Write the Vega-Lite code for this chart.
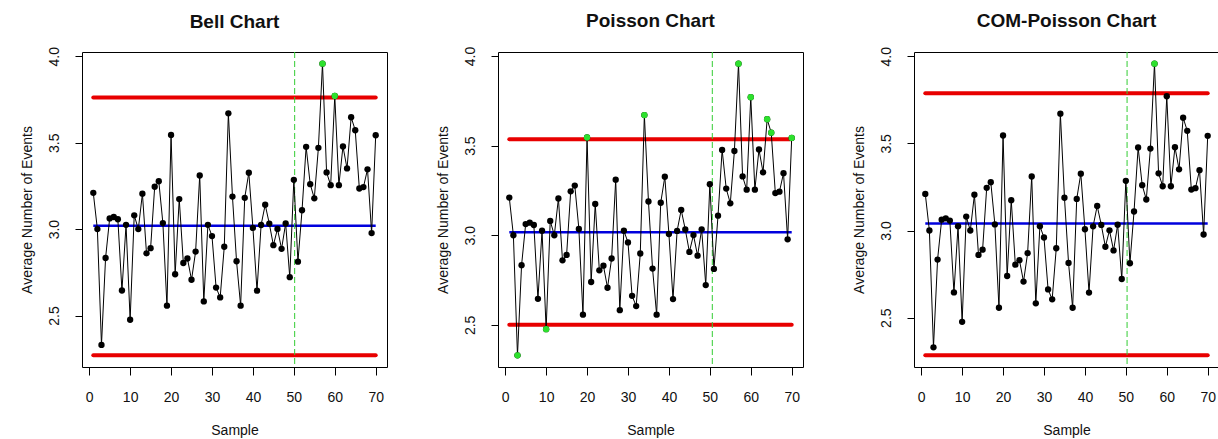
{
  "$schema": "https://vega.github.io/schema/vega-lite/v6.json",
  "padding": {"left": 19, "top": 11, "right": 0, "bottom": 0},
  "background": "white",
  "spacing": 111,
  "bounds": "flush",
  "datasets": {
    "obs": [
      {"sample":1,"value":3.21},{"sample":2,"value":3.0},{"sample":3,"value":2.33},{"sample":4,"value":2.833},{"sample":5,"value":3.062},
      {"sample":6,"value":3.07},{"sample":7,"value":3.057},{"sample":8,"value":2.645},{"sample":9,"value":3.025},{"sample":10,"value":2.476},
      {"sample":11,"value":3.08},{"sample":12,"value":3.0},{"sample":13,"value":3.205},{"sample":14,"value":2.86},{"sample":15,"value":2.89},
      {"sample":16,"value":3.245},{"sample":17,"value":3.277},{"sample":18,"value":3.035},{"sample":19,"value":2.557},{"sample":20,"value":3.545},
      {"sample":21,"value":2.739},{"sample":22,"value":3.174},{"sample":23,"value":2.804},{"sample":24,"value":2.83},{"sample":25,"value":2.707},
      {"sample":26,"value":2.87},{"sample":27,"value":3.31},{"sample":28,"value":2.582},{"sample":29,"value":3.025},{"sample":30,"value":2.96},
      {"sample":31,"value":2.662},{"sample":32,"value":2.605},{"sample":33,"value":2.898},{"sample":34,"value":3.67},{"sample":35,"value":3.188},
      {"sample":36,"value":2.814},{"sample":37,"value":2.557},{"sample":38,"value":3.181},{"sample":39,"value":3.326},{"sample":40,"value":3.007},
      {"sample":41,"value":2.644},{"sample":42,"value":3.024},{"sample":43,"value":3.141},{"sample":44,"value":3.032},{"sample":45,"value":2.907},
      {"sample":46,"value":3.001},{"sample":47,"value":2.886},{"sample":48,"value":3.033},{"sample":49,"value":2.722},{"sample":50,"value":3.285},
      {"sample":51,"value":2.812},{"sample":52,"value":3.109},{"sample":53,"value":3.476},{"sample":54,"value":3.26},{"sample":55,"value":3.178},
      {"sample":56,"value":3.47},{"sample":57,"value":3.957},{"sample":58,"value":3.328},{"sample":59,"value":3.254},{"sample":60,"value":3.77},
      {"sample":61,"value":3.254},{"sample":62,"value":3.478},{"sample":63,"value":3.351},{"sample":64,"value":3.647},{"sample":65,"value":3.572},
      {"sample":66,"value":3.235},{"sample":67,"value":3.243},{"sample":68,"value":3.346},{"sample":69,"value":2.977},{"sample":70,"value":3.543}
    ],
    "limits": [
      {"chart":"Bell","kind":"UCL","value":3.762,"sample":1,"sample_end":70},
      {"chart":"Bell","kind":"CL","value":3.02,"sample":1,"sample_end":70},
      {"chart":"Bell","kind":"LCL","value":2.27,"sample":1,"sample_end":70},
      {"chart":"Poisson","kind":"UCL","value":3.535,"sample":1,"sample_end":70},
      {"chart":"Poisson","kind":"CL","value":3.017,"sample":1,"sample_end":70},
      {"chart":"Poisson","kind":"LCL","value":2.5,"sample":1,"sample_end":70},
      {"chart":"COM","kind":"UCL","value":3.788,"sample":1,"sample_end":70},
      {"chart":"COM","kind":"CL","value":3.04,"sample":1,"sample_end":70},
      {"chart":"COM","kind":"LCL","value":2.284,"sample":1,"sample_end":70}
    ],
    "shift": [
      {"chart":"Bell","sample":50.2},
      {"chart":"Poisson","sample":50.6},
      {"chart":"COM","sample":50.3}
    ]
  },
  "config": {
    "view": {"stroke": "#000000", "strokeWidth": 1},
    "axis": {"grid": false, "domain": false, "tickColor": "#000000", "tickWidth": 1,
      "labelFont": "Liberation Sans", "labelFontSize": 14, "labelColor": "#111111",
      "titleFont": "Liberation Sans", "titleFontSize": 14, "titleFontWeight": "normal", "titleColor": "#111111"},
    "title": {"font": "Liberation Sans", "fontSize": 19, "fontWeight": "bold", "color": "#111111", "offset": 15, "baseline": "alphabetic", "anchor": "middle"}
  },
  "hconcat": [
    {
      "width": 305, "height": 315,
      "title": "Bell Chart",
      "encoding": {"x": {"field": "sample", "type": "quantitative", "scale": {"domain": [-1.76, 72.76], "nice": false, "zero": false},
        "axis": {"values": [0,10,20,30,40,50,60,70], "title": "Sample", "tickSize": 8, "labelPadding": 15, "titleY": 67, "titleBaseline": "alphabetic"}}},
      "layer": [
        {"data": {"name": "limits"}, "transform": [{"filter": "datum.chart === 'Bell' && datum.kind !== 'CL'"}],
         "mark": {"type": "rule", "color": "#e80000", "strokeWidth": 4, "strokeCap": "round"},
         "encoding": {"x2": {"field": "sample_end"}, "y": {"field": "value", "type": "quantitative", "scale": {"domain": [2.2025, 4.0245], "nice": false, "zero": false},
           "axis": {"values": [2.5,3,3.5,4], "format": ".1f", "title": "Average Number of Events", "labelAngle": -90, "labelAlign": "center", "labelBaseline": "alphabetic", "labelPadding": 17, "tickSize": 7, "titleX": -55, "titleY": 157.5, "titleAngle": -90, "titleAlign": "center", "titleBaseline": "middle"}}}},
        {"data": {"name": "limits"}, "transform": [{"filter": "datum.chart === 'Bell' && datum.kind === 'CL'"}],
         "mark": {"type": "rule", "color": "#0000dd", "strokeWidth": 2.5},
         "encoding": {"x2": {"field": "sample_end"}, "y": {"field": "value", "type": "quantitative", "scale": {"domain": [2.2025, 4.0245], "nice": false, "zero": false}}}},
        {"data": {"name": "shift"}, "transform": [{"filter": "datum.chart === 'Bell'"}],
         "mark": {"type": "rule", "color": "#33cc33", "strokeWidth": 1, "strokeDash": [6, 3]}, "encoding": {}},
        {"data": {"name": "obs"}, "mark": {"type": "line", "color": "#000000", "strokeWidth": 1},
         "encoding": {"y": {"field": "value", "type": "quantitative", "scale": {"domain": [2.2025, 4.0245], "nice": false, "zero": false}}}},
        {"data": {"name": "obs"}, "mark": {"type": "circle", "color": "#000000", "opacity": 1, "size": 40},
         "encoding": {"y": {"field": "value", "type": "quantitative", "scale": {"domain": [2.2025, 4.0245], "nice": false, "zero": false}}}},
        {"data": {"name": "obs"}, "transform": [{"filter": "datum.value > 3.762 || datum.value < 2.27"}],
         "mark": {"type": "circle", "color": "#2de02d", "opacity": 1, "size": 40},
         "encoding": {"y": {"field": "value", "type": "quantitative", "scale": {"domain": [2.2025, 4.0245], "nice": false, "zero": false}}}}
      ]
    },
    {
      "width": 305, "height": 315,
      "title": "Poisson Chart",
      "encoding": {"x": {"field": "sample", "type": "quantitative", "scale": {"domain": [-1.76, 72.76], "nice": false, "zero": false},
        "axis": {"values": [0,10,20,30,40,50,60,70], "title": "Sample", "tickSize": 8, "labelPadding": 15, "titleY": 67, "titleBaseline": "alphabetic"}}},
      "layer": [
        {"data": {"name": "limits"}, "transform": [{"filter": "datum.chart === 'Poisson' && datum.kind !== 'CL'"}],
         "mark": {"type": "rule", "color": "#e80000", "strokeWidth": 4, "strokeCap": "round"},
         "encoding": {"x2": {"field": "sample_end"}, "y": {"field": "value", "type": "quantitative", "scale": {"domain": [2.265, 4.022], "nice": false, "zero": false},
           "axis": {"values": [2.5,3,3.5,4], "format": ".1f", "title": "Average Number of Events", "labelAngle": -90, "labelAlign": "center", "labelBaseline": "alphabetic", "labelPadding": 17, "tickSize": 7, "titleX": -55, "titleY": 157.5, "titleAngle": -90, "titleAlign": "center", "titleBaseline": "middle"}}}},
        {"data": {"name": "limits"}, "transform": [{"filter": "datum.chart === 'Poisson' && datum.kind === 'CL'"}],
         "mark": {"type": "rule", "color": "#0000dd", "strokeWidth": 2.5},
         "encoding": {"x2": {"field": "sample_end"}, "y": {"field": "value", "type": "quantitative", "scale": {"domain": [2.265, 4.022], "nice": false, "zero": false}}}},
        {"data": {"name": "shift"}, "transform": [{"filter": "datum.chart === 'Poisson'"}],
         "mark": {"type": "rule", "color": "#33cc33", "strokeWidth": 1, "strokeDash": [6, 3]}, "encoding": {}},
        {"data": {"name": "obs"}, "mark": {"type": "line", "color": "#000000", "strokeWidth": 1},
         "encoding": {"y": {"field": "value", "type": "quantitative", "scale": {"domain": [2.265, 4.022], "nice": false, "zero": false}}}},
        {"data": {"name": "obs"}, "mark": {"type": "circle", "color": "#000000", "opacity": 1, "size": 40},
         "encoding": {"y": {"field": "value", "type": "quantitative", "scale": {"domain": [2.265, 4.022], "nice": false, "zero": false}}}},
        {"data": {"name": "obs"}, "transform": [{"filter": "datum.value > 3.535 || datum.value < 2.5"}],
         "mark": {"type": "circle", "color": "#2de02d", "opacity": 1, "size": 40},
         "encoding": {"y": {"field": "value", "type": "quantitative", "scale": {"domain": [2.265, 4.022], "nice": false, "zero": false}}}}
      ]
    },
    {
      "width": 305, "height": 315,
      "title": "COM-Poisson Chart",
      "encoding": {"x": {"field": "sample", "type": "quantitative", "scale": {"domain": [-1.76, 72.76], "nice": false, "zero": false},
        "axis": {"values": [0,10,20,30,40,50,60,70], "title": "Sample", "tickSize": 8, "labelPadding": 15, "titleY": 67, "titleBaseline": "alphabetic"}}},
      "layer": [
        {"data": {"name": "limits"}, "transform": [{"filter": "datum.chart === 'COM' && datum.kind !== 'CL'"}],
         "mark": {"type": "rule", "color": "#e80000", "strokeWidth": 4, "strokeCap": "round"},
         "encoding": {"x2": {"field": "sample_end"}, "y": {"field": "value", "type": "quantitative", "scale": {"domain": [2.217, 4.024], "nice": false, "zero": false},
           "axis": {"values": [2.5,3,3.5,4], "format": ".1f", "title": "Average Number of Events", "labelAngle": -90, "labelAlign": "center", "labelBaseline": "alphabetic", "labelPadding": 17, "tickSize": 7, "titleX": -55, "titleY": 157.5, "titleAngle": -90, "titleAlign": "center", "titleBaseline": "middle"}}}},
        {"data": {"name": "limits"}, "transform": [{"filter": "datum.chart === 'COM' && datum.kind === 'CL'"}],
         "mark": {"type": "rule", "color": "#0000dd", "strokeWidth": 2.5},
         "encoding": {"x2": {"field": "sample_end"}, "y": {"field": "value", "type": "quantitative", "scale": {"domain": [2.217, 4.024], "nice": false, "zero": false}}}},
        {"data": {"name": "shift"}, "transform": [{"filter": "datum.chart === 'COM'"}],
         "mark": {"type": "rule", "color": "#33cc33", "strokeWidth": 1, "strokeDash": [6, 3]}, "encoding": {}},
        {"data": {"name": "obs"}, "mark": {"type": "line", "color": "#000000", "strokeWidth": 1},
         "encoding": {"y": {"field": "value", "type": "quantitative", "scale": {"domain": [2.217, 4.024], "nice": false, "zero": false}}}},
        {"data": {"name": "obs"}, "mark": {"type": "circle", "color": "#000000", "opacity": 1, "size": 40},
         "encoding": {"y": {"field": "value", "type": "quantitative", "scale": {"domain": [2.217, 4.024], "nice": false, "zero": false}}}},
        {"data": {"name": "obs"}, "transform": [{"filter": "datum.value > 3.788 || datum.value < 2.284"}],
         "mark": {"type": "circle", "color": "#2de02d", "opacity": 1, "size": 40},
         "encoding": {"y": {"field": "value", "type": "quantitative", "scale": {"domain": [2.217, 4.024], "nice": false, "zero": false}}}}
      ]
    }
  ]
}
